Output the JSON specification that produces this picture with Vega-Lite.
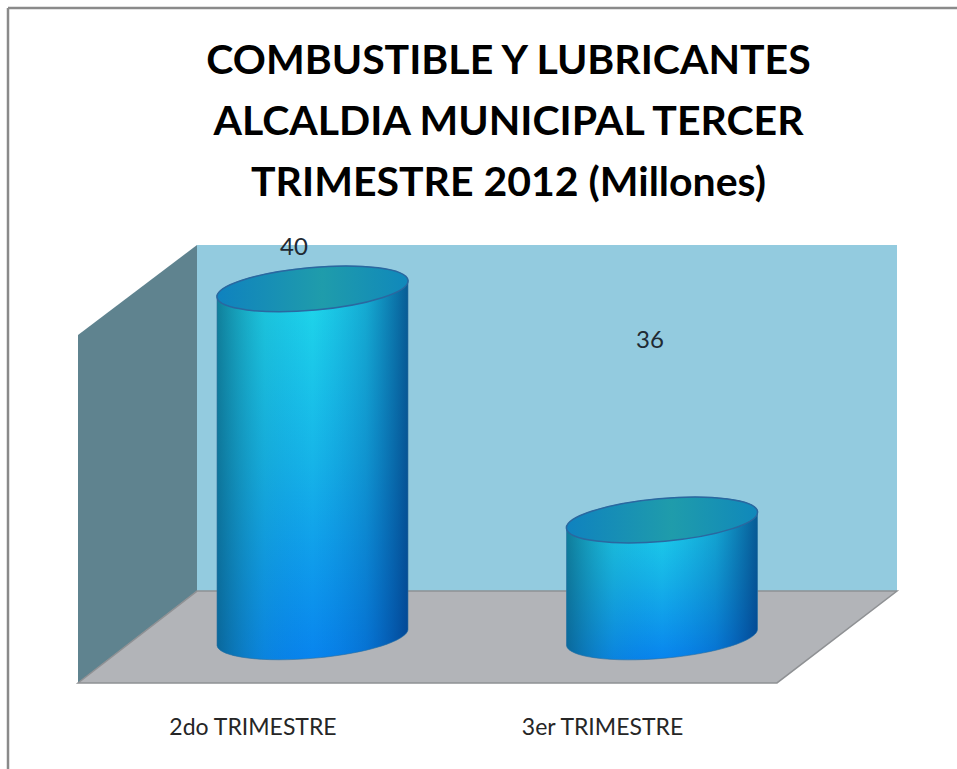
{
"$schema":"https://vega.github.io/schema/vega-lite/v6.json",
"width":957,"height":769,"padding":0,"autosize":{"type":"none"},
"background":"white",
"view":{"stroke":null},
"title":{"text":["COMBUSTIBLE Y LUBRICANTES","ALCALDIA MUNICIPAL TERCER","TRIMESTRE 2012 (Millones)"],"orient":"top","anchor":"middle","dx":30,"offset":-205,"lineHeight":61,"font":"Lato","fontSize":41,"fontWeight":"bold","color":"#000000"},
"resolve":{"scale":{"x":"independent"},"axis":{"x":"independent"}},
"datasets":{
"fondo":[{"x":197,"x2":897,"y":40.76,"y2":34.77}],
"lateral":[{"x":78,"y":39.2,"y2":33.18},{"x":197,"y":40.76,"y2":34.77}],
"piso":[{"y":34.77,"x":197,"x2":897},{"y":33.18,"x":78,"x2":777}],
"marco":[{"x":8,"x2":957,"y":44.86,"y2":44.86},{"x":8,"x2":8,"y":44.86,"y2":31.69}],
"valores":[{"periodo":"2do TRIMESTRE","valor":40,"etiqueta":40.7},{"periodo":"3er TRIMESTRE","valor":36,"etiqueta":39.1}]
},
"layer":[
{"data":{"name":"marco"},"mark":{"type":"rule","stroke":"#8a8a8a","strokeWidth":2.5},
 "encoding":{"x":{"field":"x","type":"quantitative","scale":{"domain":[0,957],"nice":false,"zero":false},"axis":null},"x2":{"field":"x2"},"y":{"field":"y","type":"quantitative","scale":{"domain":[31.69,45],"nice":false,"zero":false},"axis":null},"y2":{"field":"y2"}}},
{"data":{"name":"fondo"},"mark":{"type":"rect","fill":"#93cbdf"},
 "encoding":{"x":{"field":"x","type":"quantitative","scale":{"domain":[0,957],"nice":false,"zero":false},"axis":null},"x2":{"field":"x2"},"y":{"field":"y","type":"quantitative","axis":null},"y2":{"field":"y2"}}},
{"data":{"name":"lateral"},"mark":{"type":"area","fill":"#5f838f","opacity":1},
 "encoding":{"x":{"field":"x","type":"quantitative","scale":{"domain":[0,957],"nice":false,"zero":false},"axis":null},"y":{"field":"y","type":"quantitative","axis":null},"y2":{"field":"y2"}}},
{"data":{"name":"piso"},"mark":{"type":"area","orient":"horizontal","fill":"#b2b4b8","stroke":"#8f9194","strokeWidth":1.5,"opacity":1},
 "encoding":{"y":{"field":"y","type":"quantitative","axis":null},"x":{"field":"x","type":"quantitative","scale":{"domain":[0,957],"nice":false,"zero":false},"axis":null},"x2":{"field":"x2"}}},
{"data":{"name":"valores"},
 "mark":{"type":"point","filled":true,"size":36481,"opacity":1,"strokeWidth":0,"fill":{"gradient":"linear","x1":0,"y1":0,"x2":0,"y2":1,"stops":[{"offset":0,"color":"#20dcea"},{"offset":0.5,"color":"#16b4e8"},{"offset":1,"color":"#0884ee"}]}},
 "encoding":{"x":{"field":"periodo","type":"nominal","scale":{"type":"point","domain":["2do TRIMESTRE","3er TRIMESTRE"],"range":[312.5,662],"padding":0},"axis":{"orient":"bottom","offset":-53,"title":null,"domain":false,"ticks":false,"labelAngle":0,"labelOffset":-60,"labelFont":"Lato","labelFontSize":23,"labelColor":"#262626","labelLimit":300,"labelPadding":0}},
  "y":{"field":"valor","type":"quantitative","axis":null},
  "shape":{"field":"periodo","type":"nominal","legend":null,"scale":{"domain":["2do TRIMESTRE","3er TRIMESTRE"],"range":["M-1,0.09 A1.004,0.224 -5 0 1 1,-0.09 L1,3.554 A1.004,0.224 -5 0 1 -1,3.734 Z","M-1,0.09 A1.004,0.224 -5 0 1 1,-0.09 L1,1.135 A1.004,0.224 -5 0 1 -1,1.315 Z"]}}}},
{"data":{"name":"valores"},
 "mark":{"type":"point","filled":true,"size":36481,"opacity":1,"stroke":"#2f6f9f","strokeWidth":1,"strokeOpacity":0.6,"fill":{"gradient":"linear","x1":0,"y1":0,"x2":1,"y2":0,"stops":[{"offset":0,"color":"rgba(10,90,120,0.7)"},{"offset":0.25,"color":"rgba(20,130,160,0.2)"},{"offset":0.5,"color":"rgba(0,100,200,0)"},{"offset":0.78,"color":"rgba(0,70,150,0.3)"},{"offset":1,"color":"rgba(0,50,120,0.75)"}]}},
 "encoding":{"x":{"field":"periodo","type":"nominal","scale":{"type":"point","domain":["2do TRIMESTRE","3er TRIMESTRE"],"range":[312.5,662],"padding":0},"axis":null},
  "y":{"field":"valor","type":"quantitative","axis":null},
  "shape":{"field":"periodo","type":"nominal","legend":null,"scale":{"domain":["2do TRIMESTRE","3er TRIMESTRE"],"range":["M-1,0.09 A1.004,0.224 -5 0 1 1,-0.09 L1,3.554 A1.004,0.224 -5 0 1 -1,3.734 Z","M-1,0.09 A1.004,0.224 -5 0 1 1,-0.09 L1,1.135 A1.004,0.224 -5 0 1 -1,1.315 Z"]}}}},
{"data":{"name":"valores"},
 "mark":{"type":"point","filled":true,"size":36481,"opacity":1,"shape":"M-1,0.09 A1.004,0.224 -5 0 1 1,-0.09 A1.004,0.224 -5 0 1 -1,0.09 Z","stroke":"#2a68a0","strokeWidth":1.5,"fill":{"gradient":"linear","x1":0,"y1":0,"x2":1,"y2":0,"stops":[{"offset":0,"color":"#0f82bf"},{"offset":0.55,"color":"#1f9cab"},{"offset":1,"color":"#1088bb"}]}},
 "encoding":{"x":{"field":"periodo","type":"nominal","scale":{"type":"point","domain":["2do TRIMESTRE","3er TRIMESTRE"],"range":[312.5,662],"padding":0},"axis":null},
  "y":{"field":"valor","type":"quantitative","axis":null}}},
{"data":{"name":"valores"},
 "mark":{"type":"text","font":"Lato","fontSize":24,"color":"#1f2a33"},
 "encoding":{"x":{"field":"periodo","type":"nominal","scale":{"type":"point","domain":["2do TRIMESTRE","3er TRIMESTRE"],"range":[294,650],"padding":0},"axis":null},
  "y":{"field":"etiqueta","type":"quantitative","axis":null},
  "text":{"field":"valor","type":"quantitative"}}}
]
}
